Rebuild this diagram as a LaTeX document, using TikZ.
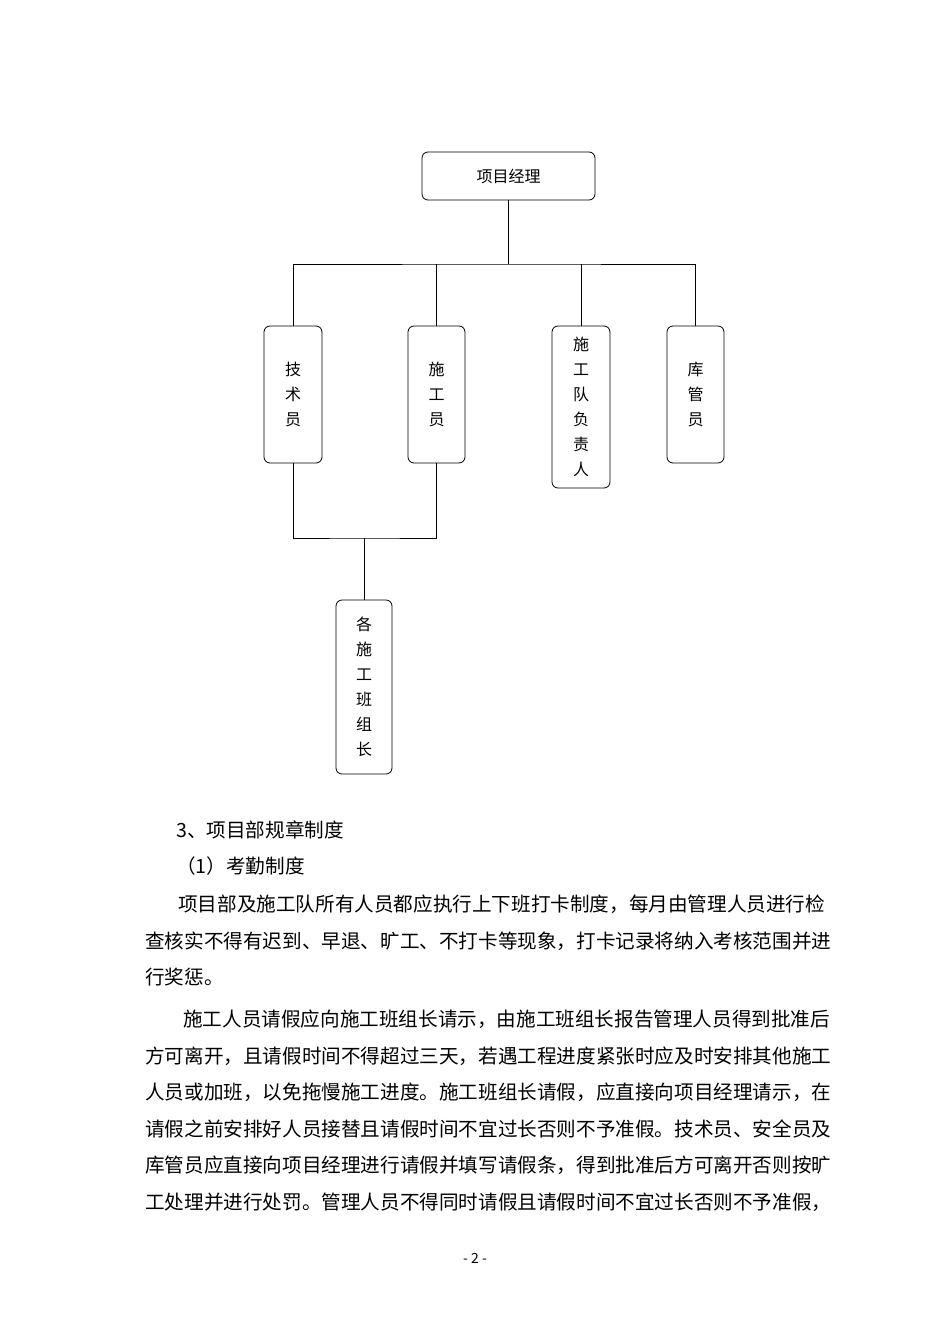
\documentclass[tikz,border=0pt]{standalone}
\usepackage{fontspec}
\setmainfont{Noto Sans CJK SC}
\begin{document}
\begin{tikzpicture}[x=1pt,y=-1pt,
  bx/.style={draw,rounded corners=6pt,line width=0.8pt,align=center,font=\fontsize{16}{25}\selectfont},
  ln/.style={line width=0.8pt},
  tx/.style={anchor=west,inner sep=0pt,font=\fontsize{19.6}{20}\selectfont}]
\useasboundingbox[fill=white] (0,0) rectangle (950,1344);
\node[bx,minimum width=173pt,minimum height=48pt] (pm) at (508.5,176) {项目经理};
\node[bx,minimum width=58pt,minimum height=137pt] (js) at (293,394.5) {技\\术\\员};
\node[bx,minimum width=57pt,minimum height=137pt] (sg) at (436.5,394.5) {施\\工\\员};
\node[bx,minimum width=58pt,minimum height=162pt] (dz) at (581,407) {施\\工\\队\\负\\责\\人};
\node[bx,minimum width=57pt,minimum height=137pt] (kg) at (695.5,394.5) {库\\管\\员};
\node[bx,minimum width=56pt,minimum height=174pt] (bz) at (364,687) {各\\施\\工\\班\\组\\长};
\coordinate (t) at (508.5,264);
\coordinate (b) at (364,538);
\draw[ln] (pm.south) -- (t);
\draw[ln] (js.north) |- (t) -| (kg.north);
\draw[ln] (sg.north) -- (sg.north |- t);
\draw[ln] (dz.north) -- (dz.north |- t);
\draw[ln] (js.south) |- (b) -| (sg.south);
\draw[ln] (b) -- (bz.north);
\node[tx] (l0) at (176,830) {3、项目部规章制度};
\node[tx] (l1) at (176,866) {（1）考勤制度};
\node[tx] (l2) at (178,904) {项目部及施工队所有人员都应执行上下班打卡制度，每月由管理人员进行检};
\node[tx] (l3) at (145,941) {查核实不得有迟到、早退、旷工、不打卡等现象，打卡记录将纳入考核范围并进};
\node[tx] (l4) at (145,977) {行奖惩。};
\node[tx] (l5) at (183,1019) {施工人员请假应向施工班组长请示，由施工班组长报告管理人员得到批准后};
\node[tx] (l6) at (145,1056) {方可离开，且请假时间不得超过三天，若遇工程进度紧张时应及时安排其他施工};
\node[tx] (l7) at (145,1092) {人员或加班，以免拖慢施工进度。施工班组长请假，应直接向项目经理请示，在};
\node[tx] (l8) at (145,1129) {请假之前安排好人员接替且请假时间不宜过长否则不予准假。技术员、安全员及};
\node[tx] (l9) at (145,1165) {库管员应直接向项目经理进行请假并填写请假条，得到批准后方可离开否则按旷};
\node[tx] (l10) at (145,1202) {工处理并进行处罚。管理人员不得同时请假且请假时间不宜过长否则不予准假，};
\node[inner sep=0pt,font=\fontsize{14}{14}\selectfont] (pg) at (475,1258) {- 2 -};
\end{tikzpicture}
\end{document}
